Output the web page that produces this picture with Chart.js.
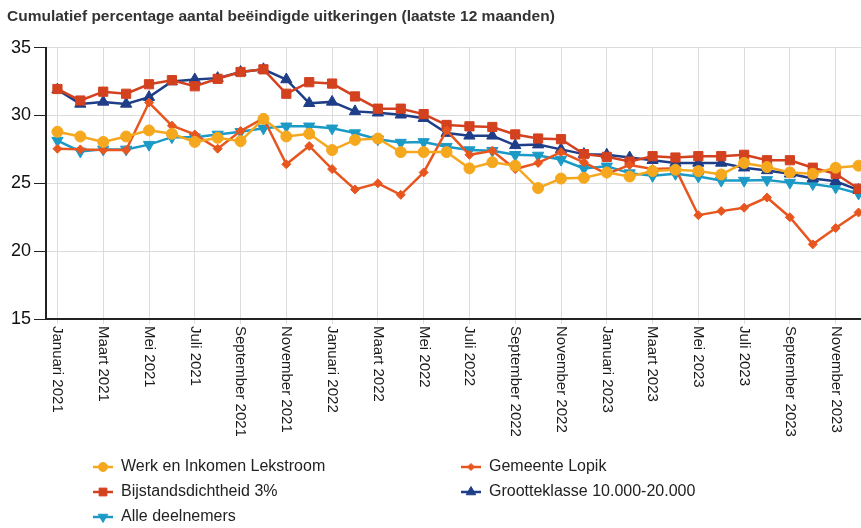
<!DOCTYPE html>
<html>
<head>
<meta charset="utf-8">
<script src="https://cdn.jsdelivr.net/npm/chart.js@4/dist/chart.umd.min.js"></script>
<style>
  html, body { margin: 0; padding: 0; background: #fff; overflow: hidden; }
  #wrap { position: relative; width: 880px; height: 528px; }
</style>
</head>
<body>
<div id="wrap"><canvas id="chart"></canvas></div>
<script>
// Month labels (Jan 2021 - Dec 2023)
const years = [2021, 2022, 2023];
const monthNames = ['Januari', 'Februari', 'Maart', 'April', 'Mei', 'Juni', 'Juli',
    'Augustus', 'September', 'Oktober', 'November', 'December'];
const months = years.flatMap(y => monthNames.map(m => m + ' ' + y));

// Series values (percentages)
const werkInkomen = [28.8, 28.45, 28.05, 28.45, 28.9, 28.65, 28.05, 28.35, 28.1, 29.75, 28.45, 28.65,
    27.45, 28.2, 28.3, 27.3, 27.3, 27.3, 26.1, 26.55, 26.3, 24.65, 25.35, 25.4,
    25.8, 25.5, 25.9, 26.0, 25.9, 25.65, 26.5, 26.2, 25.8, 25.7, 26.15, 26.3];
const gemeenteLopik = [27.55, 27.5, 27.45, 27.45, 30.95, 29.25, 28.6, 27.55, 28.85, 29.8, 26.4, 27.75,
    26.05, 24.55, 25.0, 24.15, 25.8, 28.9, 27.1, 27.4, 26.05, 26.5, 27.3, 26.55,
    25.7, 26.35, 26.05, 26.1, 22.65, 22.95, 23.2, 23.95, 22.5, 20.5, 21.7, 22.85];
const bijstandsdichtheid = [31.95, 31.1, 31.75, 31.6, 32.3, 32.6, 32.15, 32.7, 33.2, 33.4, 31.6, 32.45,
    32.35, 31.4, 30.5, 30.5, 30.1, 29.3, 29.2, 29.15, 28.6, 28.3, 28.25, 27.15,
    26.95, 26.6, 27.0, 26.9, 27.0, 27.0, 27.1, 26.7, 26.7, 26.15, 25.7, 24.6];
const grootteklasse = [31.9, 30.85, 31.0, 30.85, 31.35, 32.5, 32.65, 32.75, 33.2, 33.4, 32.65, 30.9,
    31.0, 30.3, 30.2, 30.05, 29.8, 28.7, 28.5, 28.5, 27.8, 27.85, 27.5, 27.15,
    27.1, 26.9, 26.7, 26.5, 26.5, 26.5, 26.15, 25.95, 25.7, 25.35, 25.15, 24.5];
const alleDeelnemers = [28.15, 27.35, 27.5, 27.5, 27.85, 28.4, 28.4, 28.6, 28.8, 29.05, 29.2, 29.2,
    29.05, 28.7, 28.25, 28.0, 28.05, 27.7, 27.45, 27.4, 27.1, 27.05, 26.75, 26.1,
    26.25, 25.75, 25.55, 25.7, 25.5, 25.2, 25.2, 25.25, 25.05, 24.95, 24.7, 24.25];

const yTicks = [15, 20, 25, 30, 35];

function series(label, data, color, style, radius, rotation) {
    return {
        label: label,
        data: data,
        borderColor: color,
        backgroundColor: color,
        pointBackgroundColor: color,
        pointBorderColor: color,
        pointBorderWidth: 1,
        pointStyle: style,
        pointRadius: radius,
        pointRotation: rotation || 0,
        borderWidth: 2.5,
        tension: 0
    };
}

const datasets = [
    series('Werk en Inkomen Lekstroom', werkInkomen, '#f5a81e', 'circle', 5.5),
    series('Gemeente Lopik', gemeenteLopik, '#e8561f', 'rectRot', 4.5),
    series('Bijstandsdichtheid 3%', bijstandsdichtheid, '#d3411f', 'rect', 6.5),
    series('Grootteklasse 10.000-20.000', grootteklasse, '#1f3e88', 'triangle', 6.5),
    series('Alle deelnemers', alleDeelnemers, '#1c9ac6', 'triangle', 6.5, 180)
];

// x labels rotated clockwise (top to bottom), every second month
const xLabelPlugin = {
    id: 'xLabels',
    afterDraw(chart) {
        const sc = chart.scales.x;
        const c = chart.ctx;
        c.save();
        c.font = '15px Arial, "Liberation Sans", sans-serif';
        c.fillStyle = '#1a1a1a';
        c.textAlign = 'left';
        c.textBaseline = 'middle';
        months.forEach((m, i) => {
            if (i % 2) return;
            const x = sc.getPixelForValue(i);
            c.save();
            c.translate(x, sc.top + 7);
            c.rotate(Math.PI / 2);
            c.fillText(m, 0, 0);
            c.restore();
        });
        c.restore();
    }
};

// legend in two fixed columns
const legendSlots = [[103, 467], [471, 467], [103, 492], [471, 492], [103, 517]];
const legendPlugin = {
    id: 'gridLegend',
    afterDraw(chart) {
        const c = chart.ctx;
        chart.data.datasets.forEach((ds, i) => {
            const [x, y] = legendSlots[i];
            c.save();
            c.strokeStyle = ds.borderColor;
            c.fillStyle = ds.borderColor;
            c.lineWidth = 2.5;
            c.beginPath();
            c.moveTo(x - 10, y);
            c.lineTo(x + 10, y);
            c.stroke();
            if (Chart.helpers && Chart.helpers.drawPoint) {
                c.lineWidth = 1;
                Chart.helpers.drawPoint(c, {
                    pointStyle: ds.pointStyle,
                    radius: ds.pointRadius - 1,
                    rotation: ds.pointRotation,
                    borderWidth: 1
                }, x, y);
            }
            c.font = '16px Arial, "Liberation Sans", sans-serif';
            c.fillStyle = '#222';
            c.textBaseline = 'middle';
            c.textAlign = 'left';
            c.fillText(ds.label, x + 18, y);
            c.restore();
        });
    }
};

const ctx = document.getElementById('chart').getContext('2d');
new Chart(ctx, {
    type: 'line',
    data: { labels: months, datasets: datasets },
    options: {
        responsive: true,
        maintainAspectRatio: false,
        animation: false,
        layout: { padding: { left: 7, right: 10, top: 0, bottom: 79 } },
        plugins: {
            legend: { display: false },
            tooltip: { enabled: false },
            title: {
                display: true,
                text: 'Cumulatief percentage aantal beëindigde uitkeringen (laatste 12 maanden)',
                align: 'start',
                color: '#333',
                font: { family: 'Arial, "Liberation Sans", sans-serif', size: 15.5, weight: 'bold' },
                padding: { top: 7, bottom: 22 }
            }
        },
        scales: {
            x: {
                offset: true,
                grid: {
                    offset: false,
                    color: c => c.index % 2 === 0 ? '#dcdcdc' : 'rgba(0,0,0,0)',
                    tickLength: 5
                },
                border: { color: '#222', width: 2 },
                ticks: {
                    autoSkip: false,
                    minRotation: 90,
                    maxRotation: 90,
                    color: 'rgba(0,0,0,0)',
                    font: { size: 15 },
                    callback: (v, i) => i % 2 === 0 ? months[i] : ''
                },
                afterFit: s => { s.height = 130; }
            },
            y: {
                min: yTicks[0],
                max: yTicks[yTicks.length - 1],
                afterBuildTicks: s => { s.ticks = yTicks.map(v => ({ value: v })); },
                ticks: {
                    color: '#111',
                    padding: 3,
                    font: { family: 'Arial, "Liberation Sans", sans-serif', size: 18 }
                },
                grid: { color: '#dcdcdc', tickColor: '#222', tickLength: 12 },
                border: { color: '#222', width: 2 },
                afterFit: s => { s.width = 39; }
            }
        }
    },
    plugins: [xLabelPlugin, legendPlugin]
});
</script>
</body>
</html>
